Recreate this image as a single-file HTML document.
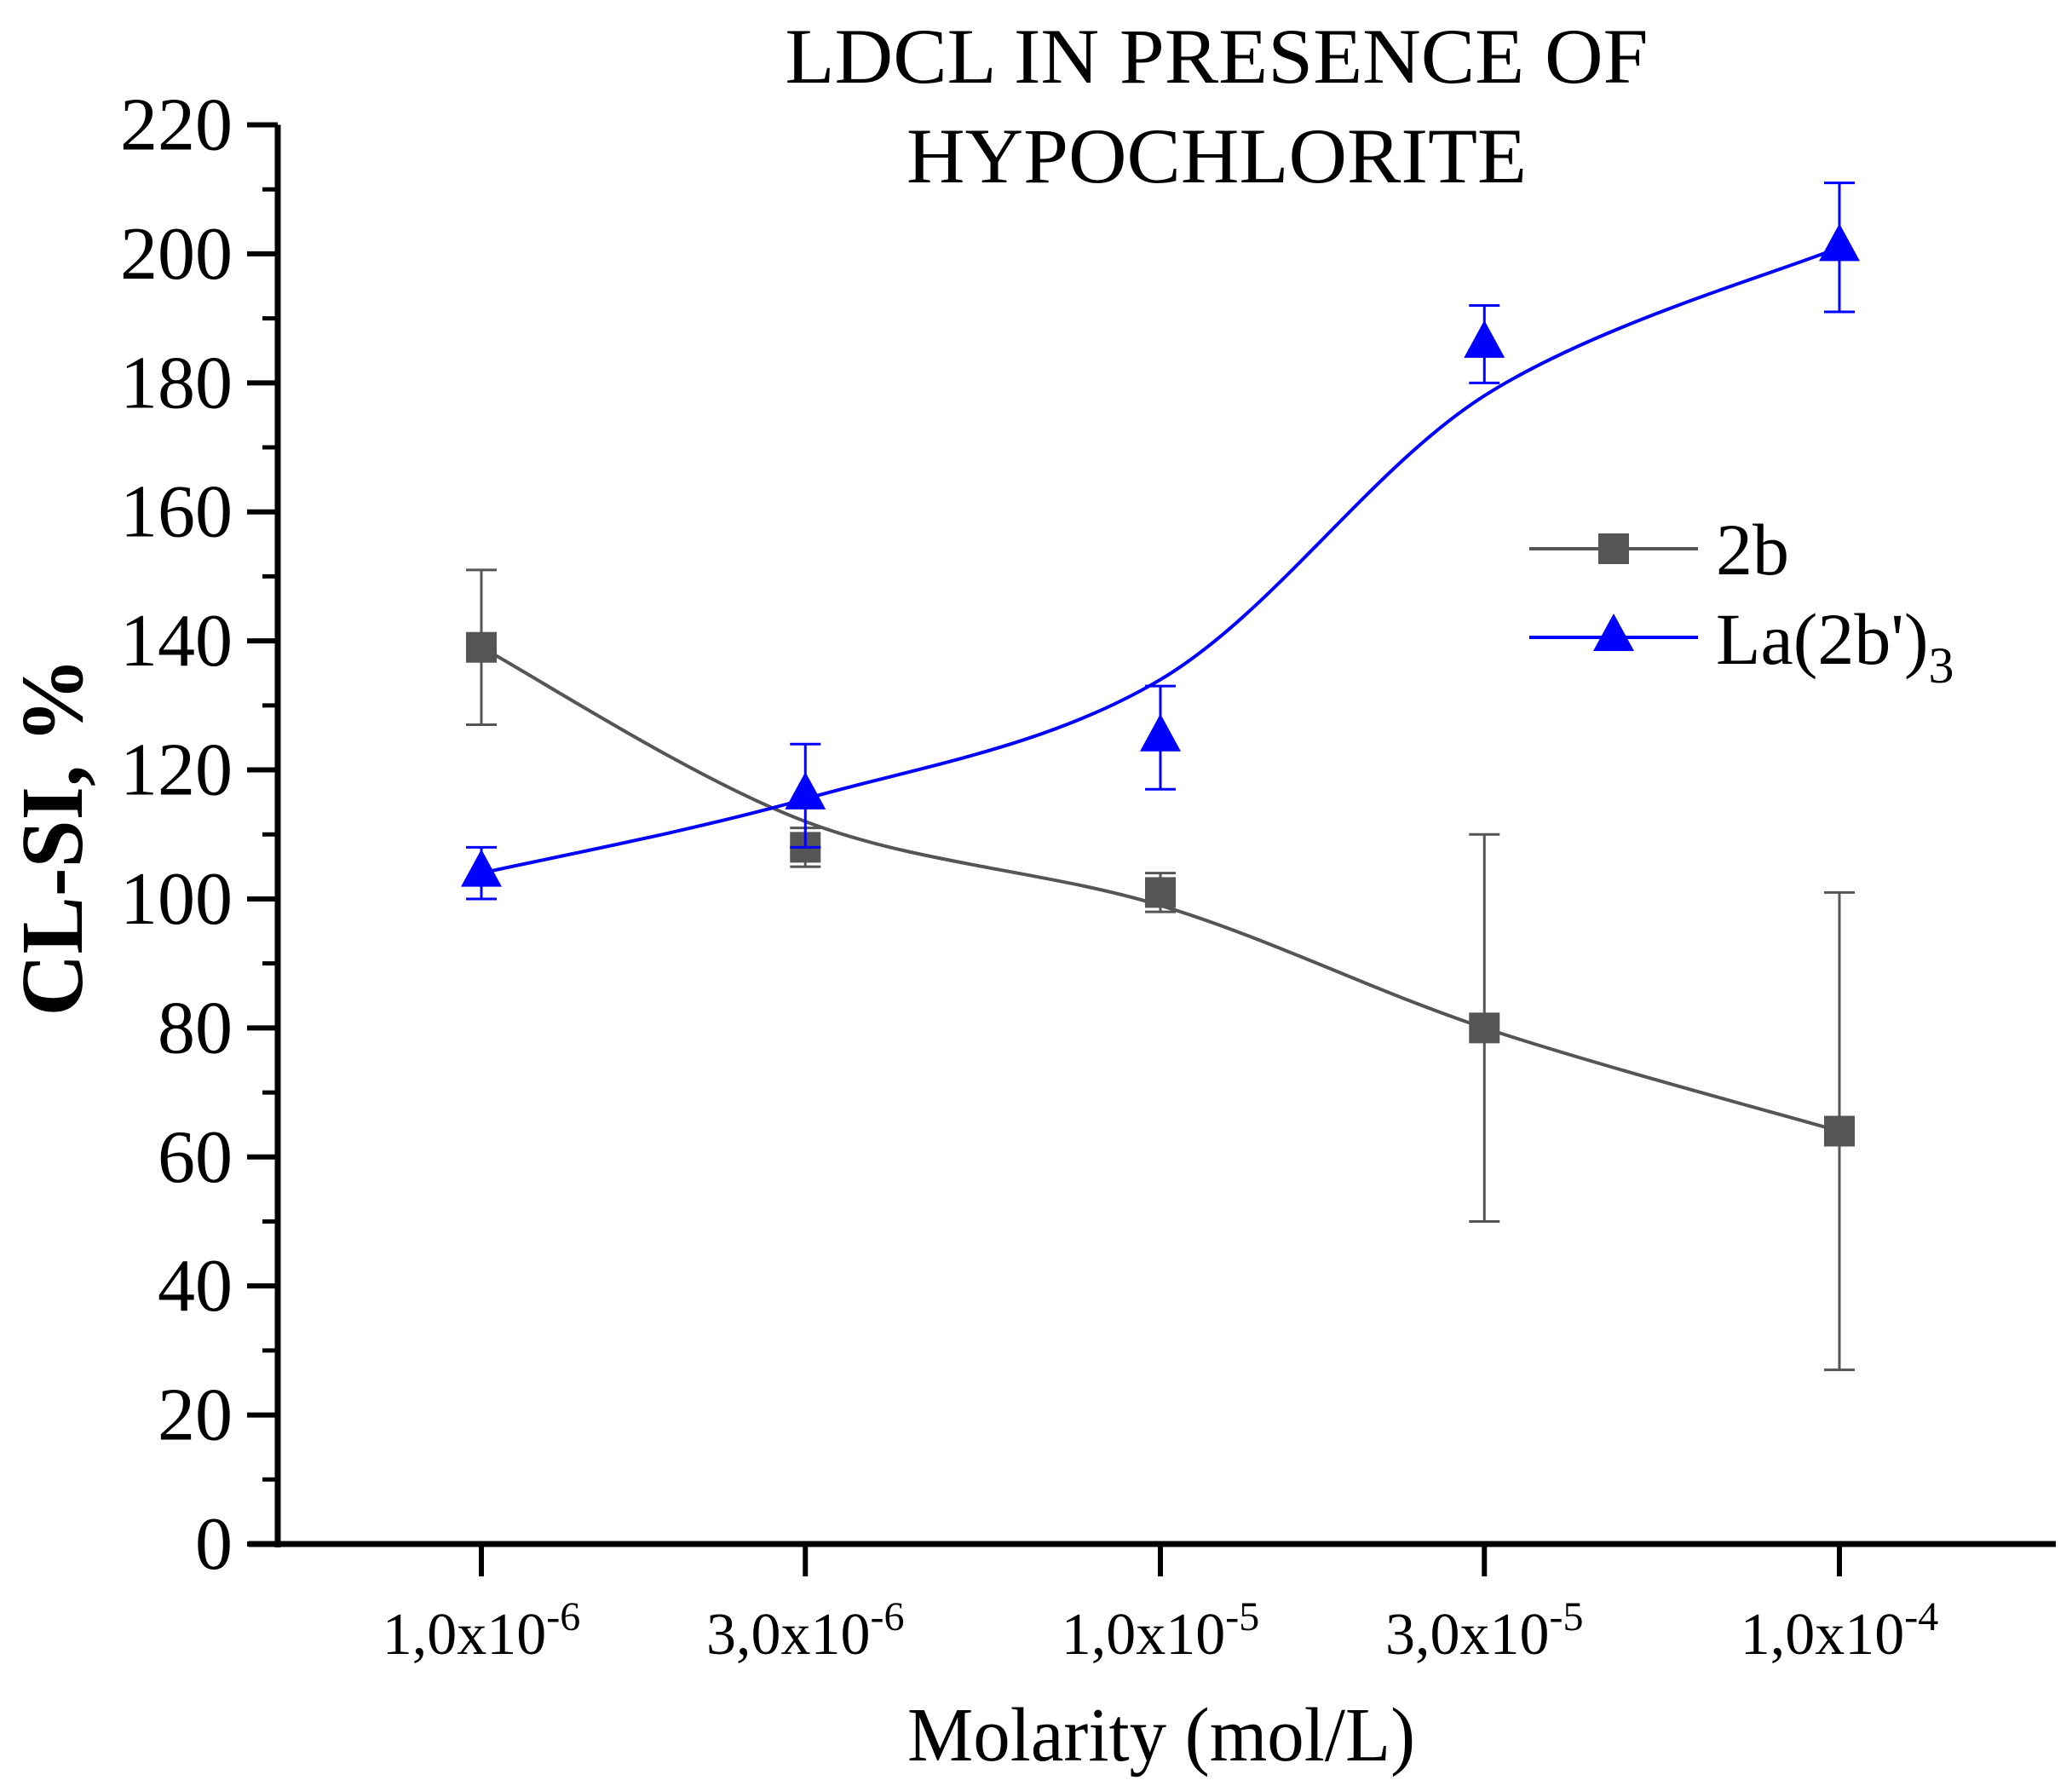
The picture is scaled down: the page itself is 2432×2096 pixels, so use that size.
<!DOCTYPE html>
<html><head><meta charset="utf-8">
<style>html,body{margin:0;padding:0;background:#fff}svg{display:block}</style>
</head><body>
<svg id="chart" width="2432" height="2096" viewBox="0 0 2432 2096" xmlns="http://www.w3.org/2000/svg" font-family="'Liberation Serif', serif">
<g id="axes"></g>
<g id="series"></g>
<text x="1428" y="97" font-size="92" text-anchor="middle" textLength="1013" lengthAdjust="spacingAndGlyphs">LDCL IN PRESENCE OF</text>
<text x="1428" y="214" font-size="92" text-anchor="middle" textLength="728" lengthAdjust="spacingAndGlyphs">HYPOCHLORITE</text>
<text transform="translate(96,982) rotate(-90)" font-size="104" font-weight="bold" text-anchor="middle" textLength="421" lengthAdjust="spacingAndGlyphs">CL-SI, %</text>
<text x="1363" y="2066" font-size="90" text-anchor="middle" textLength="596" lengthAdjust="spacingAndGlyphs">Molarity (mol/L)</text>
<g>
<line x1="1795" y1="644" x2="1993" y2="644" stroke="#555" stroke-width="4"/>
<rect x="1876" y="626" width="36" height="36" fill="#555"/>
<text x="2014" y="674" font-size="86">2b</text>
<line x1="1795" y1="748" x2="1993" y2="748" stroke="#00f" stroke-width="4"/>
<polygon points="1894,720 1918,764 1870,764" fill="#00f"/>
<text x="2014" y="779" font-size="86">La(2b')<tspan font-size="60" dy="22">3</tspan></text>
</g>
</svg>
<script>
const xLabelsBase = ["1,0x10","3,0x10","1,0x10","3,0x10","1,0x10"];
const xLabelsExp = ["-6","-6","-5","-5","-4"];
const molarity = [1e-6, 3e-6, 1e-5, 3e-5, 1e-4];
const yTicks = [0,20,40,60,80,100,120,140,160,180,200,220];
const s2bValues = [139, 108, 101, 80, 64];
const s2bErrors = [12, 3, 3, 30, 37];
const s2bFit = [139, 112, 99, 80, 64];
const laValues = [104, 116, 125, 186, 201];
const laErrors = [4, 8, 8, 6, 10];
const laFit = [104, 115.5, 134, 178, 201];

const NS = "http://www.w3.org/2000/svg";
const X0 = 326, X1 = 2413, Y0 = 1812;
function xScale(v){ return 565 + (Math.log10(v) + 6) * 797; }
function yScale(v){ return Y0 - v * (1812 - 146.5) / 220; }
function mk(tag, attrs, parent){ const e = document.createElementNS(NS, tag); for (const k in attrs) e.setAttribute(k, attrs[k]); parent.appendChild(e); return e; }
const axes = document.getElementById('axes');
const series = document.getElementById('series');

let yl = mk('line', {x1:X0, y1:Y0+4, x2:X0, y2:yScale(220), stroke:'#000', 'stroke-width':7}, axes);


let xl = mk('line', {x1:292, y1:Y0, x2:X1, y2:Y0, stroke:'#000', 'stroke-width':7}, axes);



yTicks.forEach((t, i) => {
  const y = yScale(t);
  const tk = mk('line', {x1:290, y1:y, x2:X0, y2:y, stroke:'#000', 'stroke-width':6}, axes);
  
  
  const lb = mk('text', {x:273, y:y+29, 'font-size':88, 'text-anchor':'end'}, axes);
  
  
  lb.textContent = t;
  if (i < yTicks.length - 1) {
    const ym = yScale(t + (yTicks[1]-yTicks[0]) / 2);
    const mt = mk('line', {x1:308, y1:ym, x2:X0, y2:ym, stroke:'#000', 'stroke-width':5}, axes);
    
    
  }
});

molarity.forEach((m, i) => {
  const x = xScale(m);
  const tk = mk('line', {x1:x, y1:Y0, x2:x, y2:Y0+38, stroke:'#000', 'stroke-width':6}, axes);
  
  
  const lb = mk('text', {x:x, y:1941, 'font-size':70, 'text-anchor':'middle'}, axes);
  
  
  lb.textContent = xLabelsBase[i];
  const sp = document.createElementNS(NS, 'tspan');
  sp.setAttribute('font-size', '48');
  sp.setAttribute('dy', '-28');
  sp.textContent = xLabelsExp[i];
  lb.appendChild(sp);
});

function curvePath(vals){
  const pts = molarity.map((m, i) => [xScale(m), yScale(vals[i])]);
  let d = 'M' + pts[0][0] + ',' + pts[0][1];
  for (let i = 0; i < pts.length - 1; i++) {
    const p0 = pts[Math.max(0, i-1)], p1 = pts[i], p2 = pts[i+1], p3 = pts[Math.min(pts.length-1, i+2)];
    const c1 = [p1[0] + (p2[0]-p0[0])/6, p1[1] + (p2[1]-p0[1])/6];
    const c2 = [p2[0] - (p3[0]-p1[0])/6, p2[1] - (p3[1]-p1[1])/6];
    d += ' C' + c1 + ' ' + c2 + ' ' + p2;
  }
  return d;
}

function drawSeries(name, vals, errs, fit, color, marker){
  const g = mk('g', {}, series);
  
  
  const c = mk('path', {d:curvePath(fit), fill:'none', stroke:color, 'stroke-width':4}, g);
  
  
  vals.forEach((v, i) => {
    const x = xScale(molarity[i]);
    const yt = yScale(v + errs[i]), yb = yScale(v - errs[i]);
    const e = mk('path', {d:`M${x},${yt}V${yb}M${x-18},${yt}H${x+18}M${x-18},${yb}H${x+18}`, stroke:color, 'stroke-width':3, fill:'none'}, g);
    
    
    const y = yScale(v);
    let p;
    if (marker === 'square') {
      p = mk('rect', {x:x-18, y:y-18, width:36, height:36, fill:color}, g);
    } else {
      p = mk('polygon', {points:`${x},${y-28} ${x+24},${y+16} ${x-24},${y+16}`, fill:color}, g);
    }
    
    
  });
}
drawSeries('2b', s2bValues, s2bErrors, s2bFit, '#555', 'square');
drawSeries('la2b3', laValues, laErrors, laFit, '#0000ff', 'triangle');
</script>
</body></html>
